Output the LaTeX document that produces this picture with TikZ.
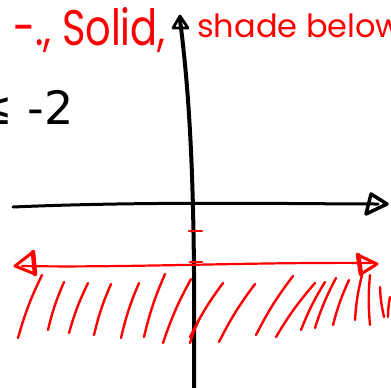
\documentclass[tikz,border=0pt]{standalone}
\usepackage{fontspec}
\setmainfont{Poppins}
\newfontfamily\markfont{DejaVu Sans}
\begin{document}
\begin{tikzpicture}[x=1pt,y=-1pt,line cap=round,line join=round,
  axisline/.style={line width=3.5pt,black},
  redline/.style={line width=2.2pt,red},
  hatch/.style={line width=2.4pt,red},
  note/.style={inner sep=0pt,red}]
\useasboundingbox (0,0) rectangle (391,388);
\begin{scope}
\clip (0,0) rectangle (391,388);
% axes
\draw[axisline,line width=3pt] (13,207) .. controls (150,201) and (300,204) .. (378,204);
\draw[axisline,line width=3.5pt] (371,194) -- (387,204) -- (366,214) -- cycle;
\draw[axisline,line width=4pt] (194,392) .. controls (195,230) and (193,120) .. (180,20);
\draw[axisline,line width=2.8pt] (173,28) -- (180,16) -- (188,28) -- cycle;
% ticks on the y axis
\draw[redline,line width=2.6pt] (189,231) -- (202,231);
\draw[redline,line width=2.6pt] (190,262) -- (202,262);
% boundary line y = -2
\draw[redline] (22,266) .. controls (120,268) and (250,262) .. (372,263);
\draw[redline,line width=3pt] (33,252) -- (15,266) -- (35,274) -- cycle;
\draw[redline,line width=4.5pt] (33,252) -- (35,274);
\draw[redline,line width=3pt] (358,255) -- (377,264) -- (361,274) -- cycle;
\draw[redline,line width=4.5pt] (358,255) -- (361,274);
% shading below
\foreach \tx/\ty/\bx/\by in {42/275/18/338,64/282/48/330,88/283/69/333,
    111/284/94/335,139/283/121/338,165/274/144/337,191/279/163/343,
    200/318/190/343,223/283/190/337,255/284/219/342,293/276/256/335,
    315/283/276/337,325/282/301/330,336/278/315/328,349/280/333/325,
    362/275/355/320,370/275/370/325,380/287/384/317,390/297/388/317}
  \draw[hatch] (\tx,\ty) to[bend right=5] (\bx,\by);
% notes
\node[note,anchor=base east] (solid) at (166,45)
  {\fontsize{50}{52}\selectfont\scalebox{0.8}[1]{-., Solid,}};
\node[note,anchor=base west] (shade) at (197,37)
  {\fontsize{32}{34}\selectfont shade below};
\node[inner sep=0pt,anchor=base east] (ineq) at (74,124)
  {\markfont\fontsize{46}{48}\selectfont ≤ -2};
\end{scope}
\end{tikzpicture}
\end{document}
